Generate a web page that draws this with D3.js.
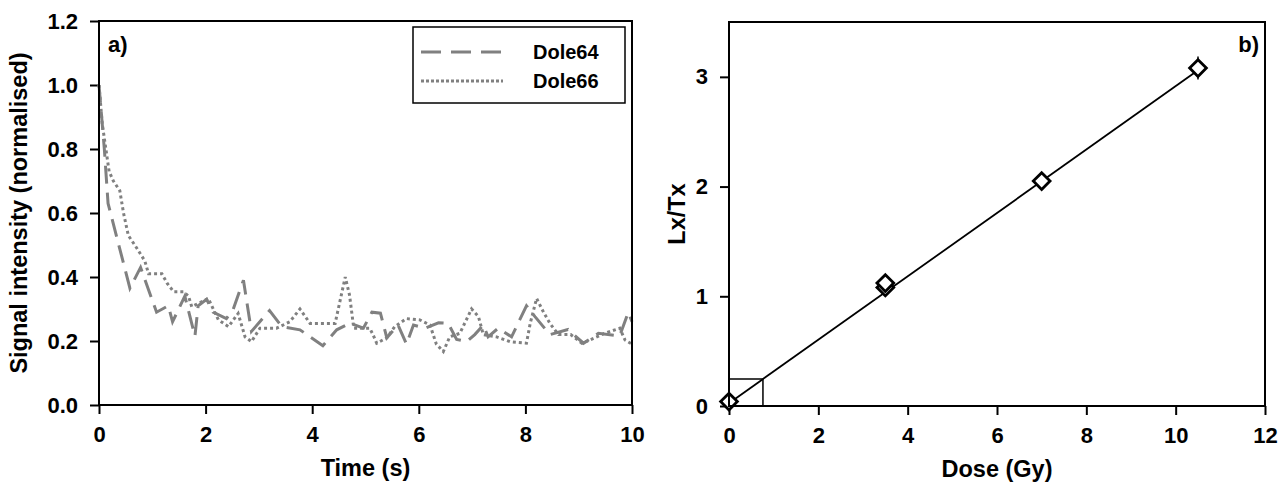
<!DOCTYPE html>
<html>
<head>
<meta charset="utf-8">
<script src="https://cdn.jsdelivr.net/npm/d3@7"></script>
<style>
  body { margin: 0; background: #fff; }
  svg { font-family: "Liberation Sans", Arial, sans-serif; font-weight: bold; }
</style>
</head>
<body>
<div id="chart"></div>
<script>
// panel a) - decay curves
const timeA = [0, 0.1, 0.17, 0.58, 0.78, 1.08, 1.30, 1.38, 1.61, 1.80, 1.86, 2.02, 2.14, 2.39, 2.52, 2.71, 2.86, 3.20, 3.43, 3.77, 4.20, 4.46, 4.71, 4.96, 5.12, 5.28, 5.40, 5.61, 5.77, 5.90, 6.12, 6.37, 6.55, 6.71, 6.90, 7.05, 7.21, 7.30, 7.49, 7.74, 8.02, 8.18, 8.46, 8.80, 9.09, 9.37, 9.77, 9.93, 10];
const dole64 = [1.0, 0.80, 0.63, 0.365, 0.43, 0.29, 0.31, 0.26, 0.34, 0.215, 0.31, 0.33, 0.29, 0.27, 0.30, 0.39, 0.23, 0.295, 0.245, 0.235, 0.185, 0.235, 0.256, 0.24, 0.29, 0.287, 0.21, 0.25, 0.19, 0.25, 0.24, 0.257, 0.255, 0.205, 0.198, 0.22, 0.25, 0.213, 0.24, 0.213, 0.31, 0.276, 0.22, 0.236, 0.193, 0.224, 0.216, 0.29, 0.26];

const timeB = [0, 0.06, 0.12, 0.19, 0.27, 0.39, 0.46, 0.55, 0.71, 0.86, 0.93, 1.18, 1.28, 1.40, 1.59, 1.68, 1.74, 2.05, 2.24, 2.43, 2.61, 2.74, 2.86, 3.02, 3.33, 3.58, 3.77, 3.96, 4.21, 4.43, 4.62, 4.70, 4.78, 5.08, 5.14, 5.21, 5.40, 5.55, 5.77, 6.02, 6.21, 6.33, 6.46, 6.58, 6.77, 6.99, 7.12, 7.21, 7.46, 7.71, 8.02, 8.09, 8.21, 8.34, 8.46, 8.62, 8.85, 9.06, 9.21, 9.49, 9.77, 9.87, 10];
const dole66 = [1.0, 0.88, 0.81, 0.73, 0.70, 0.67, 0.60, 0.53, 0.49, 0.45, 0.41, 0.41, 0.38, 0.354, 0.354, 0.34, 0.307, 0.333, 0.266, 0.245, 0.286, 0.213, 0.198, 0.24, 0.24, 0.26, 0.30, 0.255, 0.255, 0.255, 0.40, 0.344, 0.24, 0.24, 0.22, 0.193, 0.21, 0.245, 0.27, 0.266, 0.25, 0.19, 0.167, 0.213, 0.224, 0.30, 0.276, 0.22, 0.213, 0.198, 0.193, 0.255, 0.333, 0.29, 0.255, 0.22, 0.22, 0.193, 0.203, 0.224, 0.24, 0.203, 0.19];

const seriesNames = ["Dole64", "Dole66"];
const timeTicks = [0, 2, 4, 6, 8, 10];
const signalTicks = [0, 0.2, 0.4, 0.6, 0.8, 1.0, 1.2];

// panel b) - dose response
const dose = [0, 3.5, 3.5, 7, 10.5];
const lxtx = [0.04, 1.08, 1.12, 2.05, 3.08];
const lxtxErr = [0.02, 0.03, 0.03, 0.04, 0.105];
const fitLine = [[0, 0.026], [10.5, 3.06]];   // fitted growth curve endpoints (dose, Lx/Tx)
const deValue = 0.76;        // Gy
const naturalLxTx = 0.246;
const doseTicks = [0, 2, 4, 6, 8, 10, 12];
const lxtxTicks = [0, 1, 2, 3];

const svg = d3.select("#chart")
    .append("svg")
    .attr("width", 1285)
    .attr("height", 483);

const grey = "#808080";
const titleSize = "23.5px";

// ---------- panel a ----------
const xA = d3.scaleLinear().domain([0, 10]).range([99, 632]);
const yA = d3.scaleLinear().domain([0, 1.2]).range([405, 21]);

function styleAxis(g) {
    g.selectAll(".domain").remove();
    g.selectAll(".tick line").attr("stroke", "#000").attr("stroke-width", 2);
    g.selectAll(".tick text")
        .attr("fill", "#000")
        .style("font-size", "22px")
        .style("font-family", "'Liberation Sans', Arial, sans-serif")
        .style("font-weight", "bold");
}

svg.append("g")
    .attr("transform", "translate(0,405)")
    .call(d3.axisBottom(xA).tickValues(timeTicks).tickSize(9).tickPadding(12).tickFormat(d3.format("d")))
    .call(styleAxis);

svg.append("g")
    .attr("transform", "translate(99,0)")
    .call(d3.axisLeft(yA).tickValues(signalTicks).tickSize(9).tickPadding(12).tickFormat(d3.format(".1f")))
    .call(styleAxis);

const lineA = d3.line()
    .x(d => xA(d[0]))
    .y(d => yA(d[1]));

svg.append("path")
    .datum(timeA.map((t, i) => [t, dole64[i]]))
    .attr("d", lineA)
    .attr("fill", "none")
    .attr("stroke", grey)
    .attr("stroke-width", 3)
    .attr("stroke-dasharray", "18,9");

svg.append("path")
    .datum(timeB.map((t, i) => [t, dole66[i]]))
    .attr("d", lineA)
    .attr("fill", "none")
    .attr("stroke", grey)
    .attr("stroke-width", 3)
    .attr("stroke-dasharray", "3,3");

// frame
svg.append("rect")
    .attr("x", 99).attr("y", 21)
    .attr("width", 632 - 99).attr("height", 405 - 21)
    .attr("fill", "none")
    .attr("stroke", "#000")
    .attr("stroke-width", 2);

// legend
const legend = svg.append("g");
legend.append("rect")
    .attr("x", 413).attr("y", 27)
    .attr("width", 212).attr("height", 76)
    .attr("fill", "#fff")
    .attr("stroke", "#000")
    .attr("stroke-width", 1.5);

seriesNames.forEach(function (name, i) {
    const ly = 52 + i * 29;
    legend.append("line")
        .attr("x1", 421).attr("x2", 503)
        .attr("y1", ly).attr("y2", ly)
        .attr("stroke", grey)
        .attr("stroke-width", 3)
        .attr("stroke-dasharray", i === 0 ? "20,10" : "3,2");
    legend.append("text")
        .attr("x", 533).attr("y", ly + 7)
        .style("font-size", "20px")
        .text(name);
});

svg.append("text")
    .attr("x", 108).attr("y", 52)
    .style("font-size", "22px")
    .text("a)");

svg.append("text")
    .attr("x", (99 + 632) / 2).attr("y", 476)
    .attr("text-anchor", "middle")
    .style("font-size", titleSize)
    .text("Time (s)");

svg.append("text")
    .attr("transform", `translate(27,${(21 + 405) / 2}) rotate(-90)`)
    .attr("text-anchor", "middle")
    .style("font-size", titleSize)
    .text("Signal intensity (normalised)");

// ---------- panel b ----------
const xB = d3.scaleLinear().domain([0, 12]).range([729, 1265]);
const yB = d3.scaleLinear().domain([0, 3.5]).range([406, 22]);

svg.append("g")
    .attr("transform", "translate(0,406)")
    .call(d3.axisBottom(xB).tickValues(doseTicks).tickSize(9).tickPadding(12).tickFormat(d3.format("d")))
    .call(styleAxis);

svg.append("g")
    .attr("transform", "translate(729,0)")
    .call(d3.axisLeft(yB).tickValues(lxtxTicks).tickSize(9).tickPadding(12).tickFormat(d3.format("d")))
    .call(styleAxis);

// De interpolation box
svg.append("path")
    .attr("d", `M${xB(0)},${yB(naturalLxTx)} H${xB(deValue)} V${yB(0)}`)
    .attr("fill", "none")
    .attr("stroke", "#000")
    .attr("stroke-width", 1.5);

// fitted line
svg.append("line")
    .attr("x1", xB(fitLine[0][0])).attr("y1", yB(fitLine[0][1]))
    .attr("x2", xB(fitLine[1][0])).attr("y2", yB(fitLine[1][1]))
    .attr("stroke", "#000")
    .attr("stroke-width", 1.8);

// error bars
svg.selectAll(".err")
    .data(dose)
    .enter()
    .append("line")
    .attr("class", "err")
    .attr("x1", d => xB(d)).attr("x2", d => xB(d))
    .attr("y1", (d, i) => yB(lxtx[i] - lxtxErr[i]))
    .attr("y2", (d, i) => yB(lxtx[i] + lxtxErr[i]))
    .attr("stroke", "#000")
    .attr("stroke-width", 1.5);

const diamond = d3.symbol().type(d3.symbolSquare).size(140);

svg.selectAll(".pt")
    .data(dose)
    .enter()
    .append("path")
    .attr("class", "pt")
    .attr("d", diamond)
    .attr("transform", (d, i) => `translate(${xB(d)},${yB(lxtx[i])}) rotate(45)`)
    .attr("fill", "#fff")
    .attr("stroke", "#000")
    .attr("stroke-width", 2.8);

svg.append("rect")
    .attr("x", 729).attr("y", 22)
    .attr("width", 1265 - 729).attr("height", 406 - 22)
    .attr("fill", "none")
    .attr("stroke", "#000")
    .attr("stroke-width", 2);

svg.append("text")
    .attr("x", 1259).attr("y", 52)
    .attr("text-anchor", "end")
    .style("font-size", "22px")
    .text("b)");

svg.append("text")
    .attr("x", (729 + 1265) / 2).attr("y", 477)
    .attr("text-anchor", "middle")
    .style("font-size", titleSize)
    .text("Dose (Gy)");

svg.append("text")
    .attr("transform", `translate(685,${(22 + 406) / 2}) rotate(-90)`)
    .attr("text-anchor", "middle")
    .style("font-size", titleSize)
    .text("Lx/Tx");
</script>
</body>
</html>
